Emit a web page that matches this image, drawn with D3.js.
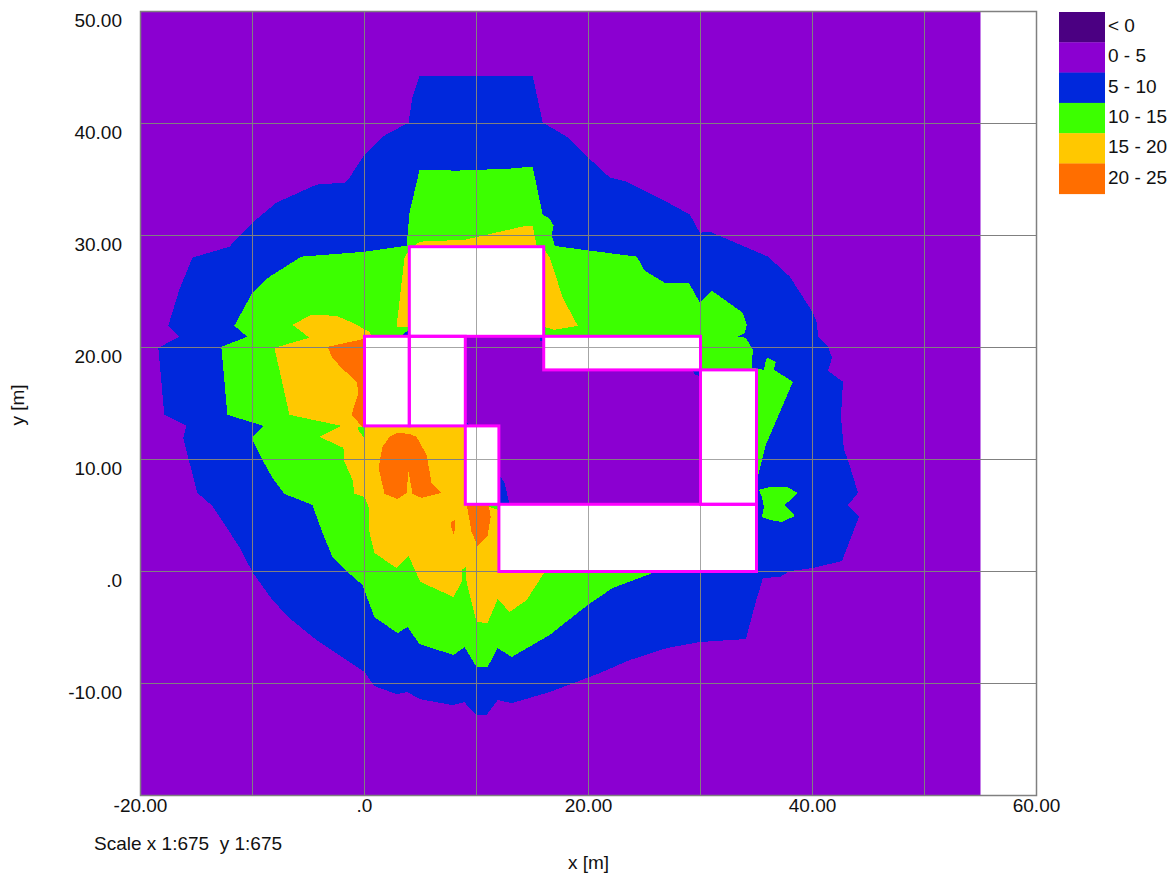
<!DOCTYPE html>
<html><head><meta charset="utf-8">
<script src="https://cdn.jsdelivr.net/npm/d3@7"></script>
<style>html,body{margin:0;padding:0;background:#fff}svg{display:block}text{font-family:"Liberation Sans",Arial,sans-serif;fill:#111}</style>
</head><body><div id="chart"></div>
<script>
const legendLabels=["< 0","0 - 5","5 - 10","10 - 15","15 - 20","20 - 25"];
const legendColors=["#4b0082","#8b00d1","#0028dc","#3cff00","#ffc800","#ff6e00"];
const xTickValues=[-20,0,20,40,60];
const xTickLabels=["-20.00",".0","20.00","40.00","60.00"];
const yTickValues=[50,40,30,20,10,0,-10];
const yTickLabels=["50.00","40.00","30.00","20.00","10.00",".0","-10.00"];
const gridX=[-10,0,10,20,30,40,50];
const gridY=[40,30,20,10,0,-10];
const fieldExtent=[-20,55,-20,50];
const blueOuter=[[4.92,44.28],[15.01,44.28],[15.91,40.08],[18.05,38.83],[19.21,37.67],[21.9,35.17],[23.41,34.81],[26.63,33.2],[29.05,31.86],[29.94,30.25],[30.83,30.34],[36.02,28.11],[37.98,26.32],[40.04,23.1],[40.4,22.21],[40.49,20.96],[41.38,20.06],[41.74,19.08],[41.38,17.92],[42.72,16.94],[42.54,13.81],[42.81,10.86],[43.17,9.96],[44.06,7.02],[43.17,5.94],[44.15,4.87],[42.63,.94],[40.04,.31],[37.98,.04],[37.09,-.49],[35.57,-.58],[35.48,-.94],[35.03,-2.37],[34.05,-6.03],[29.94,-6.3],[26.99,-6.84],[23.68,-7.91],[21,-9.07],[16.53,-10.77],[13.14,-11.75],[11.89,-11.48],[10.9,-12.82],[10.01,-12.82],[9.12,-11.93],[8.94,-11.66],[7.86,-11.93],[4.92,-11.39],[3.84,-10.77],[2.86,-10.95],[.89,-10.23],[0,-8.98],[-4.29,-6.12],[-6.7,-4.16],[-8.22,-2.55],[-10.01,-.04],[-11.17,2.19],[-13.58,5.85],[-14.92,7.02],[-15.64,9.79],[-16.18,11.93],[-15.91,13],[-17.87,13.99],[-18.41,19.97],[-16.53,20.96],[-17.52,21.94],[-16.53,25.16],[-15.37,28.02],[-12.06,29],[-10.01,31.15],[-7.86,32.93],[-4.29,34.54],[-1.79,34.72],[-1.34,35.17],[0,37.22],[1.61,38.83],[3.93,40.08],[4.29,42.41]];
const greenMain=[[4.92,35.88],[8.22,35.79],[12.96,35.97],[15.01,36.15],[15.91,31.86],[16.53,31.5],[16.89,30.88],[16.71,30.07],[16.98,29.09],[17.43,29],[24.31,28.11],[25.02,26.86],[26.81,25.78],[28.96,25.78],[29.94,24],[31.01,25.07],[33.78,23.1],[34.14,22.03],[33.96,21.31],[33.33,20.96],[34.05,20.87],[34.67,19.8],[34.58,18.19],[35.66,18.01],[35.84,18.9],[36.02,19.08],[36.73,18.72],[36.55,18.01],[38.25,16.94],[35.84,11.31],[35.12,8.45],[35.03,5.94],[34.41,.58],[26.36,.04],[25.74,-.13],[22.16,-1.47],[19.93,-2.99],[16.53,-5.67],[13.14,-7.64],[11.89,-6.84],[10.99,-8.53],[10.01,-8.53],[8.94,-6.75],[7.95,-7.46],[4.92,-6.48],[3.84,-4.96],[2.95,-5.5],[.89,-4.07],[-.18,-1.21],[-1.52,-.04],[-2.86,1.3],[-3.75,3.44],[-4.65,5.94],[-7.15,6.93],[-8.22,8.36],[-9.21,10.14],[-10.1,11.93],[-9.03,13],[-12.24,13.99],[-12.78,20.06],[-10.46,20.96],[-11.62,21.94],[-10.01,24.89],[-8.49,26.32],[-5.63,28.11],[0,28.55],[3.75,29.09],[4.02,32.04]];
const greenIsland=[[35.21,7.28],[36.19,7.55],[37.71,7.55],[38.7,7.02],[37.53,5.94],[38.43,4.96],[37.27,4.42],[36.19,4.6],[35.48,4.87],[35.66,5.76],[35.48,6.66]];
const yellowNorth=[[4.92,29.45],[8.94,29.62],[14.48,30.88],[15.01,30.88],[15.37,29.09],[16.09,28.73],[16.53,28.02],[16.98,26.68],[17.7,24.44],[19.04,21.94],[16.98,21.58],[15.91,21.85],[3.84,21.85],[2.86,21.85],[3.57,28.02],[4.02,28.73]];
const yellowMain=[[-6.43,22.03],[-4.74,22.92],[-2.5,22.83],[-1.07,22.21],[.45,21.4],[3.13,15.33],[8.49,13.54],[9.38,12.65],[9.38,6.39],[11.89,5.5],[13.85,2.82],[16.09,-.04],[14.48,-2.55],[12.96,-3.62],[11.89,-2.46],[10.99,-4.6],[10.01,-4.51],[9.12,-1.03],[9.03,.4],[8.67,.13],[8.67,-.94],[7.95,-2.28],[5,-.94],[3.93,1.39],[2.86,.31],[.89,1.65],[.45,3.44],[.36,5.76],[0,6.66],[-.89,6.93],[-1.07,8.18],[-1.79,9.79],[-1.88,11.04],[-4.02,12.02],[-2.06,13],[-6.7,13.99],[-8.04,19.97],[-4.92,20.87]];
const orangeWest=[[-3.31,20.06],[.45,20.87],[.45,13.09],[-.18,12.91],[-1.16,13.99],[-.54,15.95],[-.71,16.94],[-2.06,18.19],[-2.86,19.08]];
const orangeLobes=[[2.95,12.38],[4.02,12.29],[4.65,12.02],[5.54,10.41],[5.99,7.91],[6.88,7.02],[5.09,6.57],[4.29,6.93],[3.93,8.89],[3.75,7.02],[2.95,6.48],[1.79,6.93],[1.25,9.25],[1.61,11.13],[2.23,12.02]];
const orangeDot=[[7.78,4.42],[8.04,4.6],[8.13,3.89],[7.95,3.35],[7.69,4.07]];
const orangeSouth=[[9.12,6.03],[11.08,6.03],[11.26,4.87],[10.99,3.17],[10.1,2.28],[9.56,3.53]];
const courtyard=[[9,21],[30,21],[30,6],[12,6],[12,13],[9,13]];
const blueSliver=[[11.89,8.8],[12.51,7.91],[12.96,5.94],[11.89,5.94]];
const blueSpotA=[[15.6,21],[16,21],[16,20.5],[15.7,20.6]];
const blueSpotB=[[29.3,18],[30,18],[30,17.4],[29.5,17.6]];
const blueSpotC=[[9,13.4],[9.5,13],[9,13]];
const blueSpotD=[[3.2,21],[3.6,21.3],[4,21.6],[4,21]];
const greenSliver=[[-.63,12.91],[.09,12.91],[-.09,12.02],[-.45,12.47]];
// x0,x1,y0,y1 in metres
const buildingX0=[4,0,4,9,12,30,16];
const buildingX1=[16,4,9,12,35,35,30];
const buildingY0=[21,13,13,6,0,6,18];
const buildingY1=[29,21,21,13,6,18,21];

const W=1171,H=877;
const x=d3.scaleLinear().domain([-20,60]).range([140.5,1036.5]);
const y=d3.scaleLinear().domain([-20,50]).range([795.5,11.5]);
const svg=d3.select("#chart").append("svg").attr("width",W).attr("height",H);
const line=d3.line().x(d=>x(d[0])).y(d=>y(d[1])).curve(d3.curveLinearClosed);
svg.append("rect").attr("x",x(fieldExtent[0])).attr("y",y(fieldExtent[3]))
  .attr("width",x(fieldExtent[1])-x(fieldExtent[0])).attr("height",y(fieldExtent[2])-y(fieldExtent[3])).attr("fill",legendColors[1]);
const zones=[[blueOuter,2],[greenMain,3],[greenIsland,3],[yellowNorth,4],[yellowMain,4],[greenSliver,3],[orangeWest,5],[orangeLobes,5],[orangeDot,5],[orangeSouth,5],[courtyard,1],[blueSliver,2],[blueSpotA,2],[blueSpotB,2],[blueSpotC,2],[blueSpotD,2]];
svg.append("g").selectAll("path").data(zones).join("path").attr("d",d=>line(d[0])).attr("fill",d=>legendColors[d[1]]).attr("shape-rendering","crispEdges");
const buildings=buildingX0.map((v,i)=>({x0:v,x1:buildingX1[i],y0:buildingY0[i],y1:buildingY1[i]}));
const rectAttrs=s=>s.attr("x",d=>x(d.x0)).attr("y",d=>y(d.y1)).attr("width",d=>x(d.x1)-x(d.x0)).attr("height",d=>y(d.y0)-y(d.y1));
svg.append("g").selectAll("rect").data(buildings).join("rect").call(rectAttrs).attr("fill","#fff");
const plotW=x.range()[1]-x.range()[0], plotH=y.range()[0]-y.range()[1];
const gx=svg.append("g").attr("transform",`translate(0,${y.range()[0]})`).call(d3.axisBottom(x).tickValues(gridX).tickSize(-plotH).tickFormat("").offset(0));
const gy=svg.append("g").attr("transform",`translate(${x.range()[0]},0)`).call(d3.axisLeft(y).tickValues(gridY).tickSize(-plotW).tickFormat("").offset(0));
[gx,gy].forEach(g=>{g.select(".domain").remove();g.selectAll("line").attr("stroke","#808080")});
// buildings veil the grid slightly, then get their outline
svg.append("g").selectAll("rect").data(buildings).join("rect").call(rectAttrs).attr("fill","#fff").attr("fill-opacity",.3);
svg.append("g").selectAll("rect").data(buildings).join("rect").call(rectAttrs).attr("fill","none").attr("stroke","#ff00ff").attr("stroke-width",3);
svg.append("rect").attr("x",x.range()[0]).attr("y",y.range()[1]).attr("width",plotW).attr("height",plotH).attr("fill","none").attr("stroke","#808080").attr("stroke-width",1.5);
const FS=19;
const xl=svg.append("g").attr("transform",`translate(0,${y.range()[0]})`).call(d3.axisBottom(x).tickValues(xTickValues).tickSize(0).tickFormat((d,i)=>xTickLabels[i]).offset(0));
xl.select(".domain").remove();xl.selectAll("text").attr("font-size",FS).attr("y",16.5).attr("dy",0).attr("font-family",null);
const yl=svg.append("g").attr("transform",`translate(${x.range()[0]},0)`).call(d3.axisLeft(y).tickValues(yTickValues).tickSize(0).tickPadding(18.5).tickFormat((d,i)=>yTickLabels[i]).offset(0));
yl.select(".domain").remove();yl.selectAll("text").attr("font-size",FS).attr("dy",15).attr("font-family",null);
const sw=30.3;
const lg=svg.append("g");
lg.selectAll("rect").data(legendColors).join("rect").attr("x",1059).attr("y",(d,i)=>12+i*sw).attr("width",46).attr("height",sw+.3).attr("fill",d=>d);
lg.selectAll("text").data(legendLabels).join("text").attr("x",1108).attr("y",(d,i)=>32+i*sw).attr("font-size",FS).text(d=>d);
svg.append("text").attr("x",94).attr("y",850).attr("font-size",FS).text("Scale x 1:675  y 1:675").attr("xml:space","preserve");
svg.append("text").attr("x",588.5).attr("y",869).attr("text-anchor","middle").attr("font-size",FS).text("x [m]");
svg.append("text").attr("transform","translate(24,405) rotate(-90)").attr("text-anchor","middle").attr("font-size",FS).text("y [m]");
</script></body></html>
